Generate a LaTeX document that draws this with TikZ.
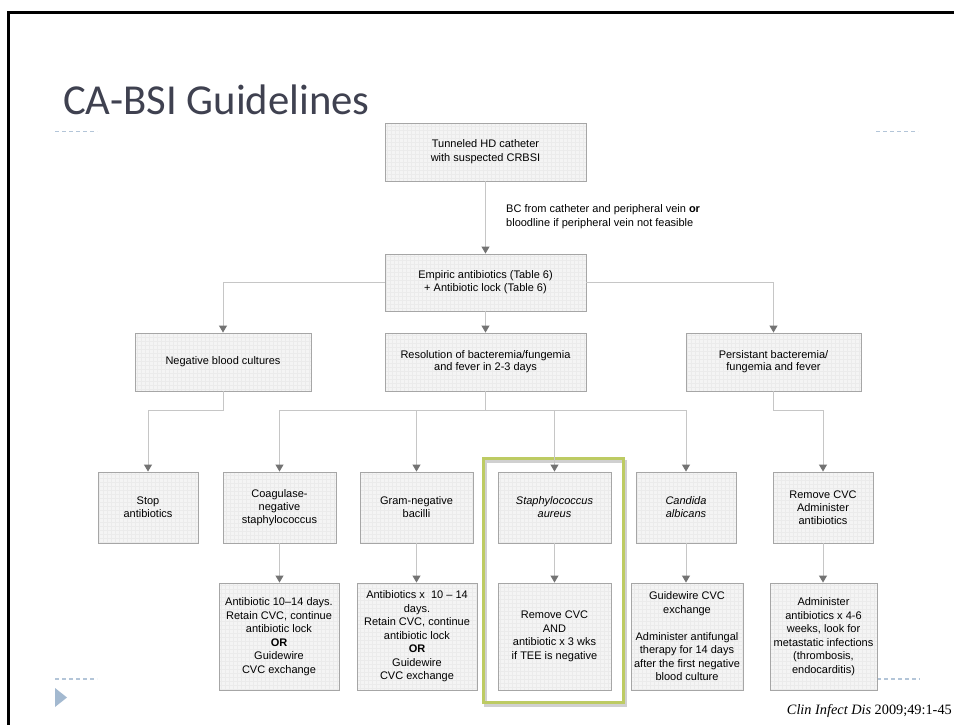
\documentclass[tikz,border=0pt]{standalone}
\usepackage{fontspec}
\setmainfont{Liberation Sans}
\newfontfamily\titlefont{Carlito}
\newfontfamily\citefont{Liberation Serif}
\usetikzlibrary{arrows.meta,calc}
\definecolor{boxfill}{HTML}{F4F4F4}
\definecolor{gridgray}{HTML}{EBEBEB}
\definecolor{boxdraw}{HTML}{A6A6A6}
\definecolor{linegray}{HTML}{C6C6C6}
\definecolor{tipgray}{HTML}{737373}
\definecolor{titlegray}{HTML}{3F4150}
\definecolor{dashblue}{HTML}{B3C5D8}
\definecolor{triblue}{HTML}{A3B9D0}
\definecolor{hlgreen}{HTML}{BDCB63}
\begin{document}
\begin{tikzpicture}[x=1pt,y=-1pt,
  box/.style={draw=boxdraw, fill=boxfill, line width=0.9pt, align=center, inner sep=0pt,
    font=\fontsize{11}{13}\selectfont,
    path picture={\draw[gridgray, line width=0.25pt]
      (path picture bounding box.south west) grid[step=4pt] (path picture bounding box.north east);}},
  rowtwo/.style={box, font=\fontsize{11}{12}\selectfont, minimum height=58pt},
  rowthree/.style={box, minimum height=71pt},
  rowfour/.style={box, font=\fontsize{11}{13.5}\selectfont, minimum height=107pt},
  conn/.style={draw=linegray, line width=1pt},
  arr/.style={conn, -{Triangle[width=8pt,length=7pt,color=tipgray]}},
  dashdeco/.style={draw=dashblue, line width=1.2pt, dash pattern=on 4pt off 3pt},
]
\useasboundingbox (0,0) rectangle (954,725);
\fill[white] (0,0) rectangle (954,725);

% slide frame
\draw[line width=2.5pt] (962,12.5) -- (8.5,12.5) -- (8.5,732);

% title
\node[anchor=base west, inner sep=0pt, text=titlegray, font=\titlefont\fontsize{42.7}{44}\selectfont] (title) at (63,114) {CA-BSI Guidelines};

% decorative dashes and bullet
\draw[dashdeco] (55,131.5) -- (97,131.5);
\draw[dashdeco] (876,131.5) -- (918,131.5);
\draw[dashdeco] (55,679) -- (97,679);
\draw[dashdeco] (877,679) -- (920,679);
\fill[triblue] (55,688) -- (67,697.5) -- (55,707) -- cycle;

% highlight around S. aureus column
\draw[line width=3pt, draw=black!30, opacity=0.6] (485,461) rectangle (625.5,705);
\draw[line width=3pt, draw=hlgreen] (483.5,458.5) rectangle (623.5,702.5);

% nodes
\node[box, minimum width=201pt, minimum height=58pt, font=\fontsize{11}{14}\selectfont] (A) at (485.5,152) {Tunneled HD catheter\\with suspected CRBSI};
\node[box, minimum width=201pt, minimum height=57pt] (B) at (485.5,282.5) {Empiric antibiotics (Table 6)\\+ Antibiotic lock (Table 6)};
\node[anchor=west, align=left, inner sep=0pt, font=\fontsize{11}{14}\selectfont] (bc) at (506,217) {BC from catheter and peripheral vein \textbf{or}\\bloodline if peripheral vein not feasible};

\node[rowtwo, minimum width=176pt] (neg) at (223,362) {Negative blood cultures};
\node[rowtwo, minimum width=201pt] (res) at (485.5,362) {Resolution of bacteremia/fungemia\\and fever in 2-3 days};
\node[rowtwo, minimum width=175pt] (per) at (773.5,362) {Persistant bacteremia/\\fungemia and fever};

\node[rowthree, minimum width=100pt] (stop) at (148,507.5) {Stop\\antibiotics};
\node[rowthree, minimum width=113pt] (coag) at (279.5,507.5) {Coagulase-\\negative\\staphylococcus};
\node[rowthree, minimum width=113pt] (gram) at (416.5,507.5) {Gram-negative\\bacilli};
\node[rowthree, minimum width=113pt] (staph) at (554.5,507.5) {\textit{Staphylococcus}\\\textit{aureus}};
\node[rowthree, minimum width=100pt] (cand) at (686,507.5) {\textit{Candida}\\\textit{albicans}};
\node[rowthree, minimum width=100pt] (rem) at (823,507.5) {Remove CVC\\Administer\\antibiotics};

\node[rowfour, minimum width=120pt] (coagr) at (279,636.5) {Antibiotic 10--14 days.\\Retain CVC, continue\\antibiotic lock\\\textbf{OR}\\Guidewire\\CVC exchange};
\node[rowfour, minimum width=120pt] (gramr) at (417,636.5) {Antibiotics x~ 10 -- 14\\days.\\Retain CVC, continue\\antibiotic lock\\\textbf{OR}\\Guidewire\\CVC exchange};
\node[rowfour, minimum width=113pt] (staphr) at (554.5,636.5) {Remove CVC\\AND\\antibiotic x 3 wks\\if TEE is negative};
\node[rowfour, minimum width=112pt] (candr) at (687,636.5) {Guidewire CVC\\exchange\\[13.5pt]Administer antifungal\\therapy for 14 days\\after the first negative\\blood culture};
\node[rowfour, minimum width=107pt] (admr) at (823.5,636.5) {Administer\\antibiotics x 4-6\\weeks, look for\\metastatic infections\\(thrombosis,\\endocarditis)};

% citation
\node[anchor=base east, inner sep=0pt, font=\citefont\fontsize{14.3}{16}\selectfont] (cite) at (952,714) {\textit{Clin Infect Dis} 2009;49:1-45};

% connectors
\draw[arr] (A.south) -- (B.north);
\draw[arr] (B.south) -- (res.north);
\draw[arr] (B.west) -| (neg.north);
\draw[arr] (B.east) -| (per.north);

\draw[arr] (neg.south) -- ++(0,19) -| (stop.north);
\draw[conn] (res.south) -- ++(0,19) coordinate (rj);
\draw[arr] (rj) -| (coag.north);
\draw[arr] (rj) -| (gram.north);
\draw[arr] (rj) -| (staph.north);
\draw[arr] (rj) -| (cand.north);
\draw[arr] (per.south) -- ++(0,19) -| (rem.north);

\draw[arr] (coag.south) -- (coag.south |- coagr.north);
\draw[arr] (gram.south) -- (gram.south |- gramr.north);
\draw[arr] (staph.south) -- (staph.south |- staphr.north);
\draw[arr] (cand.south) -- (cand.south |- candr.north);
\draw[arr] (rem.south) -- (rem.south |- admr.north);
\end{tikzpicture}
\end{document}
